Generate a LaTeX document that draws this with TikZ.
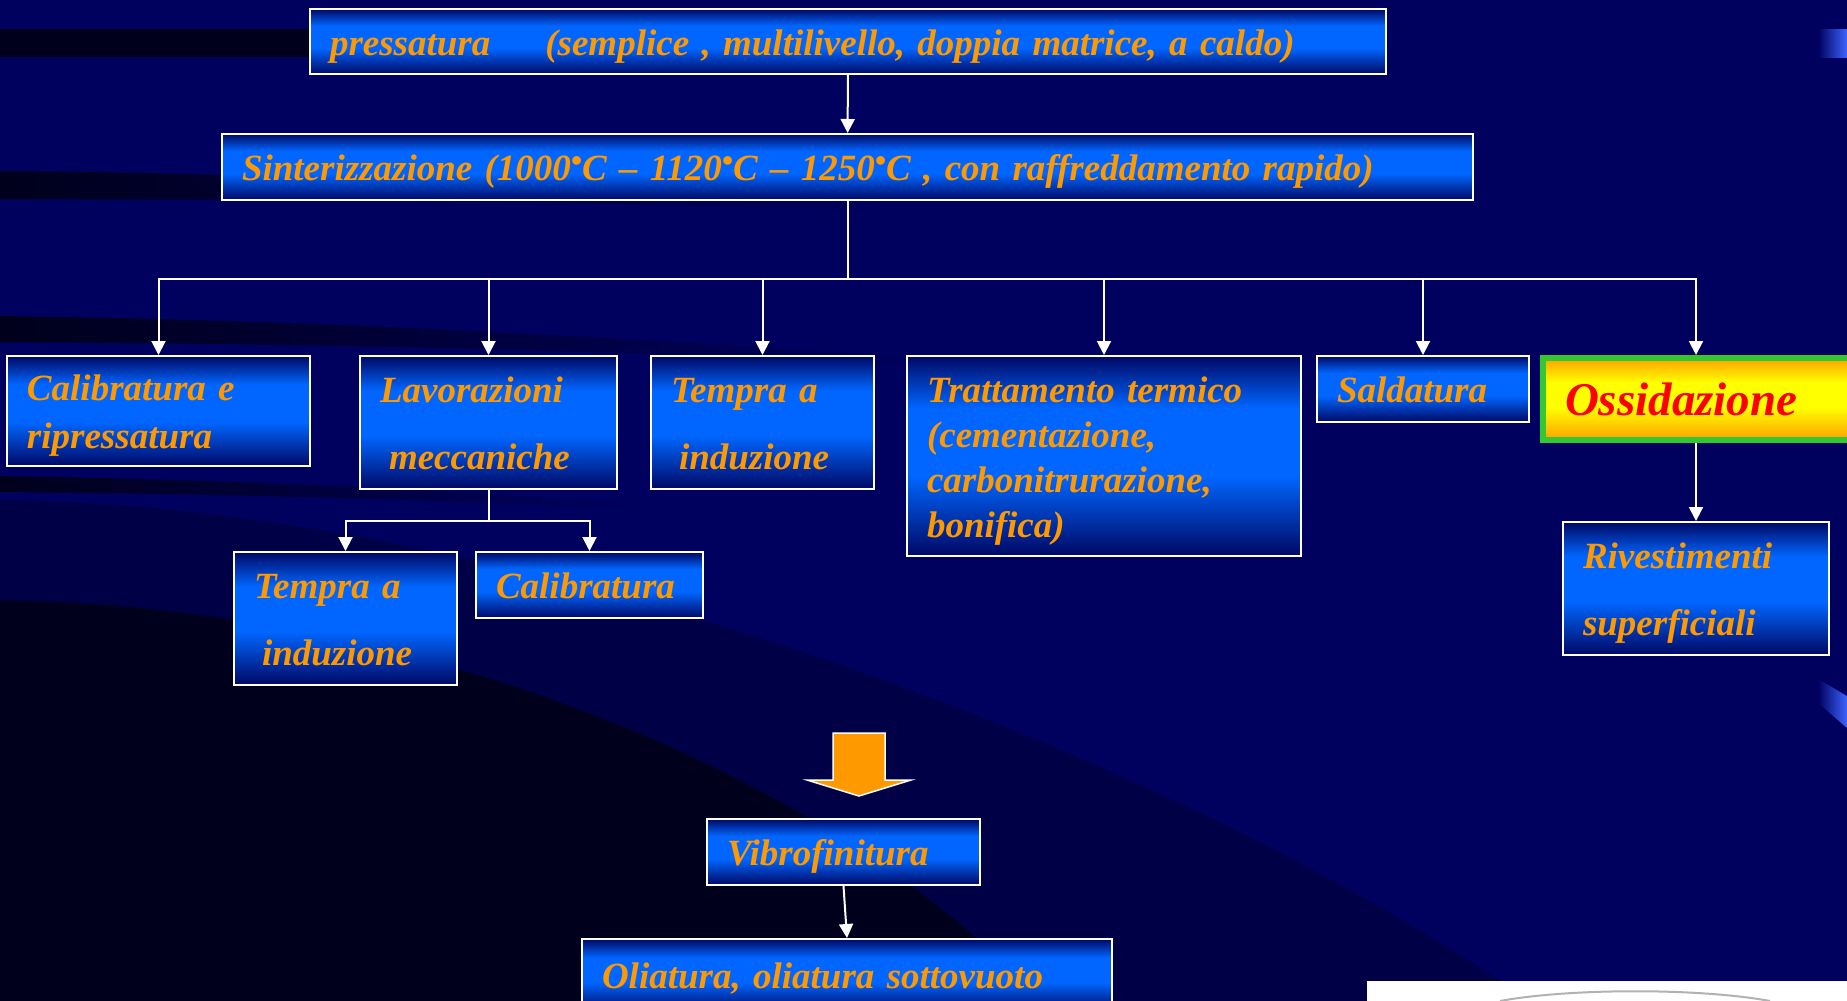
\documentclass[tikz,border=0pt]{standalone}
\usepackage{fontspec}
\setmainfont{Liberation Serif}[WordSpace=0.75]
\usetikzlibrary{arrows.meta}
\definecolor{bgnavy}{RGB}{0,0,95}
\definecolor{bgdark}{RGB}{0,0,28}
\definecolor{bgmid}{RGB}{0,0,70}
\definecolor{boxdark}{RGB}{0,8,100}
\definecolor{boxblue}{RGB}{0,102,255}
\definecolor{barblue}{RGB}{60,100,255}
\definecolor{txtorange}{RGB}{255,153,0}
\definecolor{ossorange}{RGB}{255,160,0}
\definecolor{ossyellow}{RGB}{255,255,0}
\definecolor{ossgreen}{RGB}{50,200,50}
\pgfdeclareverticalshading{boxshade}{100bp}{color(0bp)=(boxdark); color(25bp)=(boxdark); color(45bp)=(boxblue); color(62bp)=(boxblue); color(75bp)=(boxdark); color(100bp)=(boxdark)}
\pgfdeclareverticalshading{ossshade}{100bp}{color(0bp)=(ossorange); color(25bp)=(ossorange); color(45bp)=(ossyellow); color(60bp)=(ossyellow); color(75bp)=(ossorange); color(100bp)=(ossorange)}
\newcommand\boxstrut{\rule[-10pt]{0pt}{47pt}}
\newcommand\degdot{\raisebox{9pt}{\fontsize{32}{32}\selectfont •}}
\tikzset{
  stepbox/.style={draw=white, line width=2pt, shade, shading=boxshade, text=txtorange,
    align=left, inner xsep=20pt, inner ysep=0pt, anchor=north west,
    execute at begin node=\boxstrut, execute at end node=\boxstrut,
    font=\bfseries\itshape\fontsize{37}{45}\selectfont},
  loose/.style={font=\bfseries\itshape\fontsize{37}{#1}\selectfont},
  sz/.code 2 args={\pgfmathsetmacro\boxtw{#1-40}%
    \tikzset{minimum width=#1pt, minimum height=#2pt, text width=\boxtw pt}},
  ossbox/.style={draw=ossgreen, line width=6pt, shade, shading=ossshade, text=red,
    align=left, inner xsep=22pt, inner ysep=0pt, anchor=north west,
    minimum width=340pt, minimum height=82pt, text width=296pt,
    font=\bfseries\itshape\fontsize{47}{56}\selectfont},
}
\begin{document}
\begin{tikzpicture}[x=1pt, y=-1pt, line width=2pt, >={Triangle[width=14pt,length=14pt]}]
        \useasboundingbox (0,0) rectangle (1847,1001);
        \clip (0,0) rectangle (1847,1001);
        \fill[bgnavy] (0,0) rectangle (1847,1001);
        \fill[bgdark] (0,29) rectangle (320,57);
        \shade[left color=bgdark, right color=bgnavy] (0,171) .. controls (300,173) and (600,190) .. (900,205) -- (900,212) .. controls (600,200) and (300,200) .. (0,199) -- cycle;
        \shade[left color=bgdark, right color=bgnavy] (0,316) .. controls (300,320) and (600,335) .. (950,360) -- (950,368) .. controls (600,348) and (300,344) .. (0,342) -- cycle;
        \shade[left color=bgdark, right color=bgnavy] (0,476) .. controls (250,480) and (450,490) .. (650,505) -- (650,510) .. controls (450,500) and (250,494) .. (0,492) -- cycle;
        \fill[bgmid] (0,500) .. controls (500,505) and (1150,740) .. (1530,1001) -- (0,1001) -- cycle;
        \fill[bgdark] (0,600) .. controls (450,608) and (850,790) .. (1040,1001) -- (0,1001) -- cycle;

        \node[stepbox, sz={1076}{65}] (P) at (309,8) {pressatura\hspace{55pt}(semplice , multilivello, doppia matrice, a caldo)};
        \node[stepbox, sz={1251}{66}] (S) at (221,133) {Sinterizzazione (1000\degdot C – 1120\degdot C – 1250\degdot C , con raffreddamento rapido)};
        \node[stepbox, loose=46, sz={303}{110}] (C) at (6,355) {Calibratura e\\ripressatura};
        \node[stepbox, loose=67, sz={257}{133}] (L) at (359,355) {Lavorazioni\\\hspace*{9pt}meccaniche};
        \node[stepbox, loose=67, sz={223}{133}] (T) at (650,355) {Tempra a\\\hspace*{8pt}induzione};
        \node[stepbox, sz={394}{200}] (TT) at (906,355) {Trattamento termico\\(cementazione,\\carbonitrurazione,\\bonifica)};
        \node[stepbox, sz={212}{66}] (SA) at (1316,355) {Saldatura};
        \node[ossbox] (O) at (1540,355) {Ossidazione};
        \node[stepbox, loose=67, sz={266}{133}] (R) at (1562,521) {Rivestimenti\\superficiali};
        \node[stepbox, loose=67, sz={223}{133}] (T2) at (233,551) {Tempra a\\\hspace*{8pt}induzione};
        \node[stepbox, sz={227}{66}] (CA) at (475,551) {Calibratura};
        \node[stepbox, sz={273}{66}] (V) at (706,818) {Vibrofinitura};
        \node[stepbox, sz={530}{72}] (OL) at (581,938) {Oliatura, oliatura sottovuoto};

        \draw[white,->] (P) to (S);
        \draw[white] (S.south) -- ++(0,78) coordinate (bus);
        \foreach \n in {C,L,T,TT,SA}
            \draw[white,->] (bus) -| (\n.north);
        \draw[white,->] (bus) -| (R.north |- O.north);
        \draw[white,->] (O.south -| R.north) to (R.north);
        \draw[white] (L.south) -- ++(0,31) coordinate (lbus);
        \draw[white,->] (lbus) -| (T2.north);
        \draw[white,->] (lbus) -| (CA.north);
        \draw[white,->] (V.south) to (OL.north);

        \draw[white, line width=1.5pt, fill=txtorange] (833,733) -- (885,733) -- (885,780) -- (911,780) -- (859,796) -- (807,780) -- (833,780) -- cycle;

        \shade[left color=bgnavy, right color=barblue] (1818,29) rectangle (1847,57);
        \shade[left color=bgnavy, right color=barblue] (1818,679) -- (1847,696) -- (1847,728) -- (1818,703) -- cycle;
        \fill[white] (1367,981) rectangle (1847,1001);
        \draw[gray!60] (1500,1001) .. controls (1570,988) and (1700,988) .. (1770,1001);
    \end{tikzpicture}
\end{document}
